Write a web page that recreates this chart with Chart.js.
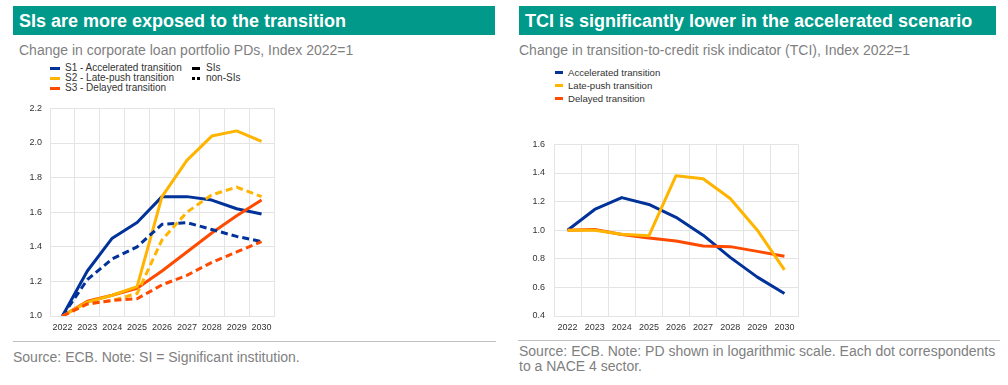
<!DOCTYPE html>
<html>
<head>
<meta charset="utf-8">
<script src="https://cdn.jsdelivr.net/npm/chart.js@4.4.1/dist/chart.umd.min.js"></script>
<style>
  html, body { margin: 0; padding: 0; background: #fff; }
  body { width: 1008px; height: 385px; position: relative; overflow: hidden; font-family: "Liberation Sans", Arial, sans-serif; }
  .bar { position: absolute; top: 6px; height: 29px; background: #00998a; color: #fff; font-weight: bold; font-size: 18px; line-height: 30px; padding-left: 6px; box-sizing: border-box; white-space: nowrap; }
  .sub { position: absolute; top: 42px; font-size: 14px; color: #7f7f7f; white-space: nowrap; }
  .leg { position: absolute; font-size: 10px; color: #333; white-space: nowrap; }
  .leg div { position: relative; height: 10px; line-height: 10px; }
  .sw { position: absolute; top: 4px; height: 3px; }
  .sep { position: absolute; top: 341px; height: 1px; background: #c0c0c0; }
  .foot { position: absolute; font-size: 14px; color: #808080; line-height: 15px; white-space: nowrap; }
  canvas { position: absolute; }
</style>
</head>
<body>
<div class="bar" style="left:13px;width:482px;">SIs are more exposed to the transition</div>
<div class="sub" style="left:19px;">Change in corporate loan portfolio PDs, Index 2022=1</div>
<div class="bar" style="left:519px;width:477px;">TCI is significantly lower in the accelerated scenario</div>
<div class="sub" style="left:519px;">Change in transition-to-credit risk indicator (TCI), Index 2022=1</div>

<div class="leg" id="legL1" style="left:50px;top:63px;"></div>
<div class="leg" id="legL2" style="left:192px;top:63px;"></div>
<div class="leg" id="legR" style="left:555px;top:66px;font-size:9.6px;"></div>

<canvas id="c1" width="281" height="245" style="left:0px;top:95px;"></canvas>
<canvas id="c2" width="301" height="210" style="left:505px;top:130px;"></canvas>

<div class="sep" style="left:13px;width:483px;"></div>
<div class="foot" style="left:13px;top:350px;">Source: ECB. Note: SI = Significant institution.</div>
<div class="sep" style="left:518px;width:482px;top:340px;"></div>
<div class="foot" style="left:519px;top:344px;">Source: ECB. Note: PD shown in logarithmic scale. Each dot correspondents<br>to a NACE 4 sector.</div>

<script>
// ---------- data ----------
const years = ['2022','2023','2024','2025','2026','2027','2028','2029','2030'];

// Left chart: corporate loan portfolio PDs, Index 2022=1
const s1SIs    = [1.00, 1.26, 1.45, 1.54, 1.69, 1.69, 1.67, 1.62, 1.59];
const s1NonSIs = [1.00, 1.21, 1.33, 1.40, 1.53, 1.54, 1.50, 1.46, 1.43];
const s2SIs    = [1.00, 1.08, 1.12, 1.17, 1.69, 1.90, 2.04, 2.07, 2.01];
const s2NonSIs = [1.00, 1.07, 1.09, 1.13, 1.44, 1.60, 1.70, 1.745, 1.69];
const s3SIs    = [1.00, 1.085, 1.12, 1.16, 1.26, 1.37, 1.48, 1.58, 1.67];
const s3NonSIs = [1.00, 1.07, 1.09, 1.10, 1.18, 1.235, 1.31, 1.37, 1.43];
const leftYTicks = [1.0, 1.2, 1.4, 1.6, 1.8, 2.0, 2.2];

// Right chart: TCI, Index 2022=1
const tciAccelerated = [1.00, 1.145, 1.228, 1.18, 1.09, 0.965, 0.81, 0.672, 0.557];
const tciLatePush    = [1.00, 1.00, 0.972, 0.961, 1.381, 1.36, 1.222, 1.00, 0.723];
const tciDelayed     = [1.00, 1.005, 0.97, 0.945, 0.924, 0.889, 0.885, 0.852, 0.818];
const rightYTicks = [0.4, 0.6, 0.8, 1.0, 1.2, 1.4, 1.6];

const scenarioLabelsLeft = ['S1 - Accelerated transition', 'S2 - Late-push transition', 'S3 - Delayed transition'];
const typeLabels = ['SIs', 'non-SIs'];
const scenarioLabelsRight = ['Accelerated transition', 'Late-push transition', 'Delayed transition'];

// ---------- styles ----------
const BLUE = '#003299', YELLOW = '#ffb400', RED = '#ff4b00';
const GRID = '#e4e4e4';
const DASH = [7, 4];

function ds(data, color, dashed) {
  return { data, borderColor: color, backgroundColor: color, borderWidth: 3,
    borderDash: dashed ? DASH : [], pointRadius: 0, tension: 0, fill: false,
    borderCapStyle: 'butt', borderJoinStyle: 'round' };
}

function opts(ticks, yWidth, yPad, padTop, padRight) {
  return {
    responsive: false, animation: false, devicePixelRatio: 1,
    layout: { padding: { top: padTop, right: padRight, left: 0, bottom: 0 } },
    plugins: { legend: { display: false }, tooltip: { enabled: false } },
    scales: {
      x: { type: 'category', offset: true,
        grid: { offset: true, color: GRID, drawTicks: false, lineWidth: 1 },
        border: { color: GRID },
        ticks: { color: '#333', font: { size: 9, family: 'Liberation Sans' }, padding: 6, maxRotation: 0, autoSkip: false },
        afterFit: s => { s.height = 24; } },
      y: { min: ticks[0], max: ticks[ticks.length - 1],
        afterBuildTicks: s => { s.ticks = ticks.map(v => ({ value: v })); },
        grid: { color: GRID, drawTicks: false, lineWidth: 1 },
        border: { color: GRID },
        ticks: { color: '#333', font: { size: 9, family: 'Liberation Sans' }, padding: yPad,
          callback: v => Number(v).toFixed(1) },
        afterFit: s => { s.width = yWidth; } }
    }
  };
}

new Chart(document.getElementById('c1'), {
  type: 'line',
  data: { labels: years, datasets: [
    ds(s3NonSIs, RED, true), ds(s2NonSIs, YELLOW, true), ds(s1NonSIs, BLUE, true),
    ds(s2SIs, YELLOW, false), ds(s3SIs, RED, false), ds(s1SIs, BLUE, false)
  ] },
  options: opts(leftYTicks, 50, 8, 12, 7)
});

new Chart(document.getElementById('c2'), {
  type: 'line',
  data: { labels: years, datasets: [
    ds(tciLatePush, YELLOW, false), ds(tciDelayed, RED, false), ds(tciAccelerated, BLUE, false)
  ] },
  options: opts(rightYTicks, 49, 9, 13, 8)
});

// ---------- legends (HTML text) ----------
function legend(el, labels, colors, kinds, rowH, swW, textX) {
  labels.forEach((t, i) => {
    const row = document.createElement('div');
    row.style.height = rowH + 'px'; row.style.lineHeight = rowH + 'px';
    if (kinds[i] === 'dash') {
      [0, 5].forEach(off => { const d = document.createElement('span'); d.className = 'sw';
        d.style.left = off + 'px'; d.style.width = '3px'; d.style.background = colors[i];
        d.style.top = (rowH / 2 - 1.5) + 'px'; row.appendChild(d); });
    } else {
      const sw = document.createElement('span'); sw.className = 'sw';
      sw.style.left = '0px'; sw.style.width = swW + 'px'; sw.style.background = colors[i];
      sw.style.top = (rowH / 2 - 1.5) + 'px'; row.appendChild(sw);
    }
    const tx = document.createElement('span'); tx.textContent = t;
    tx.style.position = 'absolute'; tx.style.left = textX + 'px'; row.appendChild(tx);
    el.appendChild(row);
  });
}
legend(document.getElementById('legL1'), scenarioLabelsLeft, [BLUE, YELLOW, RED], ['solid','solid','solid'], 10, 10, 15);
legend(document.getElementById('legL2'), typeLabels, ['#000', '#000'], ['solid','dash'], 10, 8, 14);
legend(document.getElementById('legR'), scenarioLabelsRight, [BLUE, YELLOW, RED], ['solid','solid','solid'], 13, 8, 13);
</script>
</body>
</html>
